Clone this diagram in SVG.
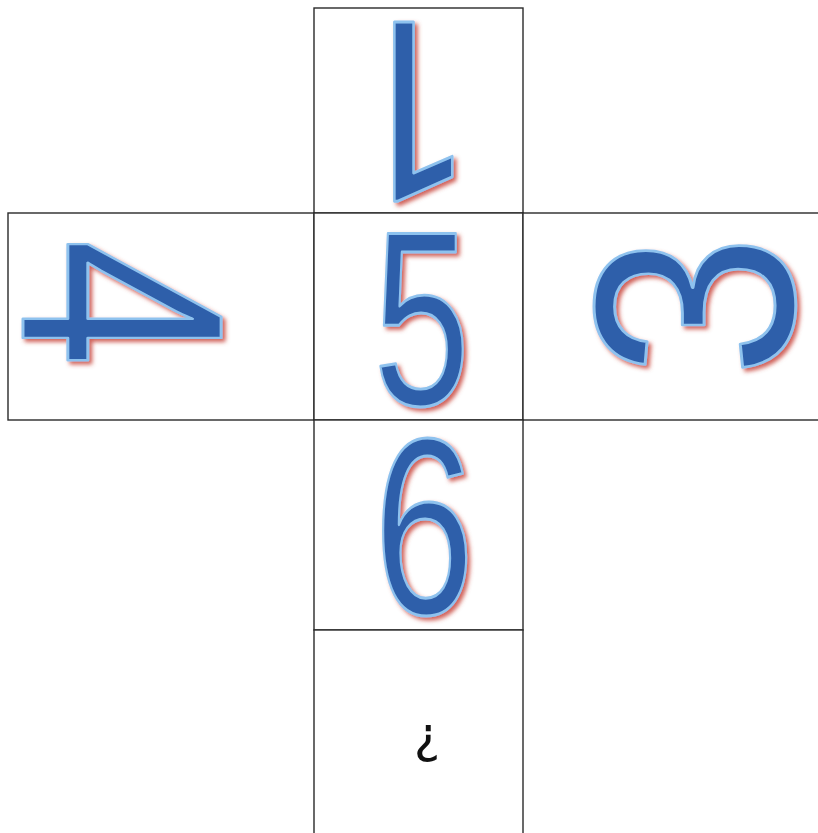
<svg xmlns="http://www.w3.org/2000/svg" width="818" height="833" viewBox="0 0 818 833">
<style>
.cell{fill:#fff;stroke:#2a2a2a;stroke-width:1.4}
.dig{font-family:"Liberation Sans",Arial,sans-serif;fill:#2E5EAA;stroke:#8EC2EE;stroke-width:3;stroke-linejoin:round}
.one{font-family:Roboto,"Open Sans",sans-serif}
.q{font-family:"DejaVu Sans","Liberation Sans",sans-serif;font-size:50px;fill:#111;text-anchor:middle}
</style>
<defs>
<filter id="sh" x="-20%" y="-20%" width="140%" height="140%">
<feGaussianBlur in="SourceAlpha" stdDeviation="2"/>
<feOffset dx="3" dy="3" result="b"/>
<feFlood flood-color="#C8463C" flood-opacity="0.85"/>
<feComposite in2="b" operator="in"/>
<feMerge><feMergeNode/><feMergeNode in="SourceGraphic"/></feMerge>
</filter>
</defs>
<rect width="818" height="833" fill="#fff"/>
<g id="face-top">
<rect class="cell" x="314" y="8" width="209" height="205"/>
<g filter="url(#sh)"><g transform="translate(414,111) rotate(180) scale(0.85,1)"><text class="dig one" font-size="250" x="-66" y="89">1</text></g></g>
</g>
<g id="face-left">
<rect class="cell" x="8" y="213" width="306" height="207"/>
<g filter="url(#sh)"><g transform="translate(126,302) rotate(90) scale(0.8,1)"><text class="dig" font-size="288" x="-79" y="103">4</text></g></g>
</g>
<g id="face-center">
<rect class="cell" x="314" y="213" width="209" height="207"/>
<g filter="url(#sh)"><g transform="translate(421,318) scale(0.70,1)"><text class="dig" font-size="248" x="-68" y="87">5</text></g></g>
</g>
<g id="face-right">
<rect class="cell" x="523" y="213" width="310" height="207"/>
<g filter="url(#sh)"><g transform="translate(692,306) rotate(-90) scale(0.9,1)"><text class="dig" font-size="285" x="-79" y="101">3</text></g></g>
</g>
<g id="face-below">
<rect class="cell" x="314" y="420" width="209" height="210"/>
<g filter="url(#sh)"><g transform="translate(423,526) scale(0.72,1)"><text class="dig" font-size="250" x="-68" y="88">6</text></g></g>
</g>
<g id="face-unknown">
<rect class="cell" x="314" y="630" width="209" height="215"/>
<text class="q" x="427" y="752">¿</text>
</g>
<g id="connectors"/>
</svg>
